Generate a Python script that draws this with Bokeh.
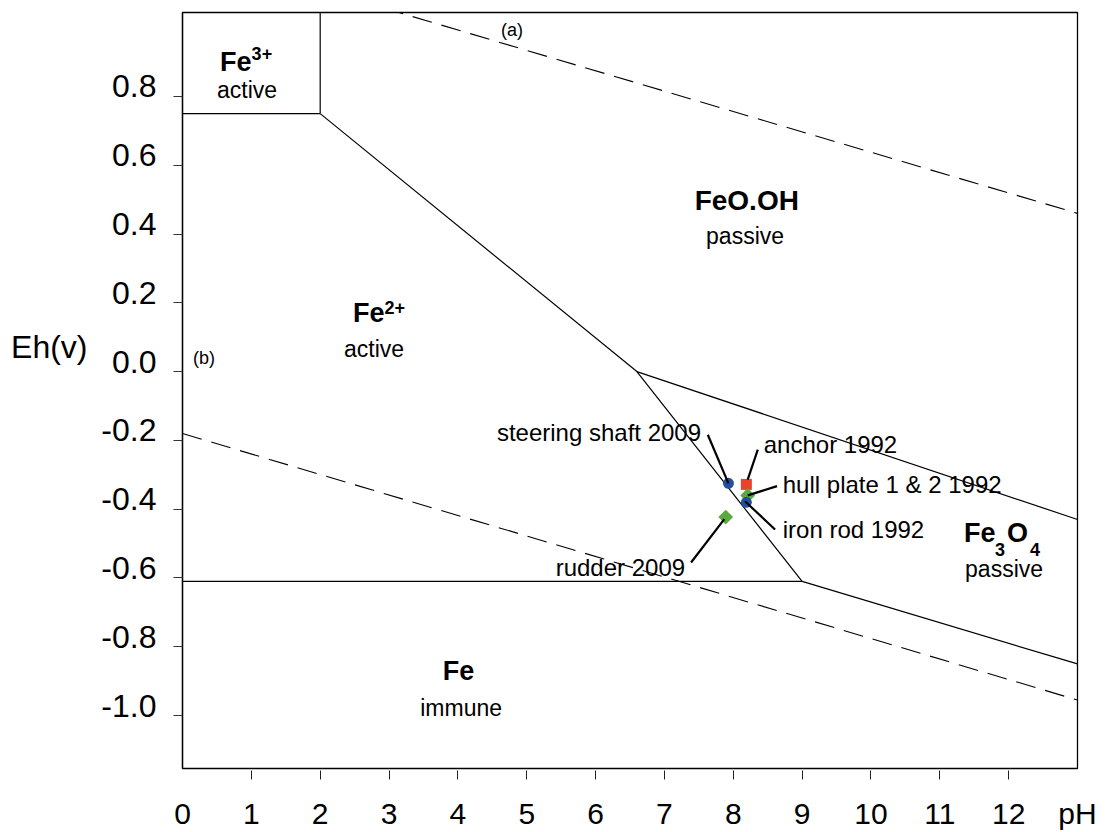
import math
from bokeh.plotting import figure
from bokeh.models import (Range1d, FixedTicker, PrintfTickFormatter, CustomJSTickFormatter,
                          LinearAxis)
from bokeh.core.properties import value
from bokeh.embed import file_html
from bokeh.resources import INLINE

FONT = "Liberation Sans"

# ---------------- data ----------------
ph_ticks = list(range(0, 13))
ph_title_tick = 13
eh_ticks = [-1.0, -0.8, -0.6, -0.4, -0.2, 0.0, 0.2, 0.4, 0.6, 0.8]
eh_title_tick = 0.0713

# stability-field boundaries (pH, Eh)
fe3_fe2_ph = [0, 2]
fe3_fe2_eh = [0.75, 0.75]
fe3_feooh_ph = [2, 2]
fe3_feooh_eh = [0.75, 1.2]
fe2_oxide_ph = [2, 6.6, 9.0]
fe2_oxide_eh = [0.75, 0.0, -0.61]
fe2_fe_ph = [0, 9.0]
fe2_fe_eh = [-0.61, -0.61]
feooh_fe3o4_ph = [6.6, 13]
feooh_fe3o4_eh = [0.0, -0.43]
fe3o4_fe_ph = [9.0, 13]
fe3o4_fe_eh = [-0.61, -0.85]

# water stability limits (dashed lines (a) and (b))
line_a_ph = [0, 13]
line_a_eh = [1.23, 0.46]
line_b_ph = [0, 13]
line_b_eh = [-0.18, -0.955]

# measured samples
sample_names = ["steering shaft 2009", "anchor 1992", "hull plate 1 & 2 1992",
                "iron rod 1992", "rudder 2009"]
sample_ph = [7.93, 8.19, 8.21, 8.19, 7.89]
sample_eh = [-0.325, -0.328, -0.36, -0.38, -0.423]

# ---------------- styles / layout ----------------
BLUE, RED, GREEN = "#214f9e", "#e8432d", "#5caa3e"
sample_marker = ["circle", "square", "diamond", "circle", "diamond"]
sample_color = [BLUE, RED, GREEN, BLUE, GREEN]
draw_order = [0, 1, 2, 4, 3]
label_xy = [(7.532, -0.178), (8.443, -0.2125), (8.719, -0.3285), (8.719, -0.459), (7.30, -0.569)]
label_align = ["right", "left", "left", "left", "right"]
leader_from = [(7.63, -0.1835), (8.356, -0.227), (8.636, -0.333), (8.607, -0.459), (7.387, -0.555)]
leader_off = [(0, 0), (0.02, 0.014), (0, 0), (-0.02, 0.003), (-0.02, -0.006)]

W, H = 1113, 832
Y0, Y1 = -1.154, 1.044
p = figure(width=W, height=H, x_range=Range1d(0, 13), y_range=Range1d(Y0, Y1),
           output_backend="svg", toolbar_location=None,
           min_border_left=182, min_border_right=36, min_border_top=12, min_border_bottom=62)
p.grid.visible = False
p.outline_line_color = "black"
p.outline_line_width = 1.3
p.background_fill_color = "white"
p.border_fill_color = "white"

# x axis: labels on major ticks (plus the "pH" title at the right end), marks on minor ticks
xa = p.xaxis[0]
xa.ticker = FixedTicker(ticks=ph_ticks + [ph_title_tick], minor_ticks=ph_ticks[1:])
xa.major_label_overrides = {ph_title_tick: "pH"}
xa.axis_line_color = None
xa.major_tick_line_color = None
xa.major_tick_in = 0
xa.major_tick_out = 11
xa.minor_tick_line_color = "#222222"
xa.minor_tick_in = -2
xa.minor_tick_out = 11
xa.major_label_text_font = FONT
xa.major_label_text_font_size = "30px"
xa.major_label_text_color = "black"
xa.major_label_standoff = 17

# y axis: tick marks only
ya = p.yaxis[0]
ya.ticker = FixedTicker(ticks=eh_ticks, minor_ticks=[])
ya.formatter = CustomJSTickFormatter(code="return ''")
ya.major_tick_in = 0
ya.major_tick_out = 9
ya.major_tick_line_color = "#333333"
ya.minor_tick_line_color = None
ya.axis_line_color = "black"
ya.axis_line_width = 1.3
ya.major_label_standoff = 0

# y tick labels (sit slightly above their marks, as in the source figure)
d = 10 / 344.9
p.extra_y_ranges = {"lbl": Range1d(Y0 - d, Y1 - d)}
lab = LinearAxis(y_range_name="lbl", ticker=FixedTicker(ticks=eh_ticks, minor_ticks=[]),
                 formatter=PrintfTickFormatter(format="%.1f"),
                 axis_line_color=None, major_tick_line_color=None, minor_tick_line_color=None,
                 major_tick_in=0, major_tick_out=0, minor_tick_in=0, minor_tick_out=0,
                 major_label_standoff=17, major_label_text_font=FONT,
                 major_label_text_font_size="32px", major_label_text_color="black")
p.add_layout(lab, "left")

# "Eh(v)" title, placed as a single tick label on an outer axis
ttl = LinearAxis(ticker=FixedTicker(ticks=[eh_title_tick], minor_ticks=[]),
                 major_label_overrides={eh_title_tick: "Eh(v)"},
                 axis_line_color=None, major_tick_line_color=None, minor_tick_line_color=None,
                 major_tick_in=0, major_tick_out=0, minor_tick_in=0, minor_tick_out=0,
                 major_label_standoff=11, major_label_text_font=FONT,
                 major_label_text_font_size="32px", major_label_text_color="black")
p.add_layout(ttl, "left")

# boundaries
for xs, ys in [(fe3_fe2_ph, fe3_fe2_eh), (fe3_feooh_ph, fe3_feooh_eh),
               (fe2_oxide_ph, fe2_oxide_eh), (fe2_fe_ph, fe2_fe_eh),
               (feooh_fe3o4_ph, feooh_fe3o4_eh), (fe3o4_fe_ph, fe3o4_fe_eh)]:
    p.line(xs, ys, line_color="black", line_width=1.2)

for xs, ys in [(line_a_ph, line_a_eh), (line_b_ph, line_b_eh)]:
    p.line(xs, ys, line_color="black", line_width=1.1, line_dash="20 10")

# markers
for i in draw_order:
    m = sample_marker[i]
    if m == "diamond":
        p.scatter([sample_ph[i]], [sample_eh[i]], marker="square", angle=math.pi / 4,
                  size=10.5, fill_color=sample_color[i], line_color=None)
    else:
        p.scatter([sample_ph[i]], [sample_eh[i]], marker=m, size=11,
                  fill_color=sample_color[i], line_color=None)

# leader lines
p.segment(x0=[a[0] for a in leader_from], y0=[a[1] for a in leader_from],
          x1=[sample_ph[i] + leader_off[i][0] for i in range(len(sample_ph))],
          y1=[sample_eh[i] + leader_off[i][1] for i in range(len(sample_eh))],
          line_color="black", line_width=2.2)

# sample labels
for al in ["left", "right"]:
    idx = [i for i in range(len(sample_names)) if label_align[i] == al]
    p.text([label_xy[i][0] for i in idx], [label_xy[i][1] for i in idx],
           text=[sample_names[i] for i in idx], text_font=value(FONT), text_font_size="24px",
           text_align=al, text_baseline="middle", text_color="black")

# field labels
def txt(x, y, s, size, bold=False, align="center"):
    p.text([x], [y], text=[s], text_font=value(FONT), text_font_size=size,
           text_font_style="bold" if bold else "normal", text_align=align,
           text_baseline="middle", text_color="black")

# Fe3+ active
txt(0.546, 0.900, "Fe", "27px", True, "left")
txt(1.004, 0.9255, "3+", "18px", True, "left")
txt(0.938, 0.8197, "active", "23px")
# FeO.OH passive
txt(8.196, 0.4987, "FeO.OH", "28px", True)
txt(8.171, 0.3934, "passive", "23px")
# Fe2+ active
txt(2.478, 0.1716, "Fe", "27px", True, "left")
txt(2.935, 0.1861, "2+", "18px", True, "left")
txt(2.783, 0.0658, "active", "23px")
# Fe3O4 passive
txt(11.352, -0.4685, "Fe", "27px", True, "left")
txt(11.802, -0.517, "3", "18px", True, "left")
txt(11.977, -0.4685, "O", "27px", True, "left")
txt(12.311, -0.517, "4", "18px", True, "left")
txt(11.933, -0.575, "passive", "23px")
# Fe immune
txt(4.010, -0.8698, "Fe", "27px", True)
txt(4.047, -0.978, "immune", "23px")
# line tags
txt(4.787, 0.9936, "(a)", "18px")
txt(0.314, 0.0383, "(b)", "18px")

open("out.html", "w").write(file_html(p, INLINE))
